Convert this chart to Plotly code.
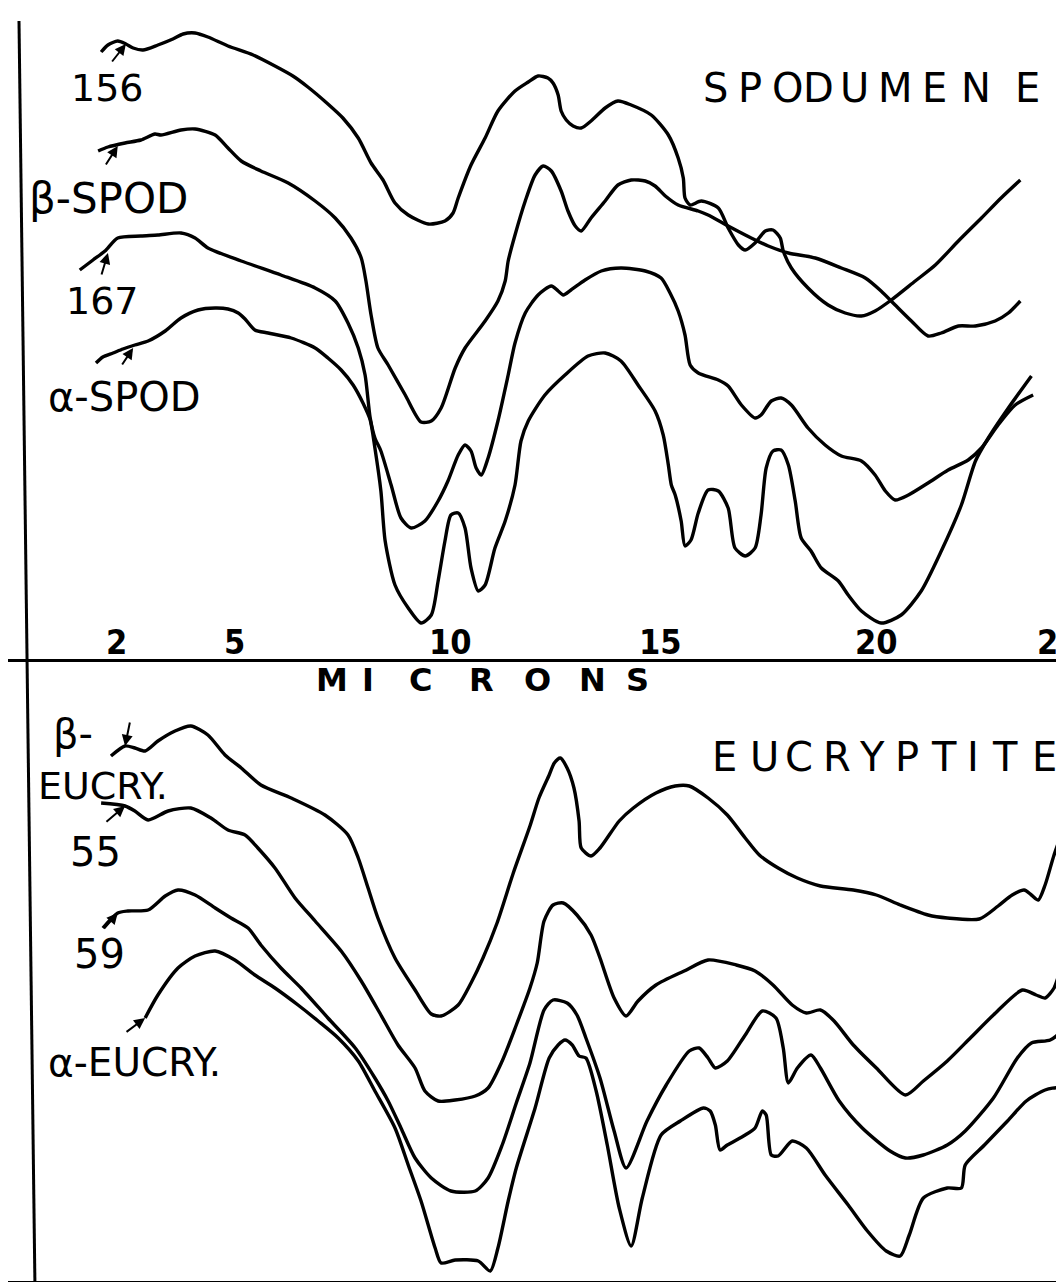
import plotly.graph_objects as go

# ---------------------------------------------------------------------------
# DATA  (x: wavelength in microns, y: relative transmission, arbitrary offset units)
# ---------------------------------------------------------------------------
# --- upper panel: SPODUMENE ---
s156_x = [1.87, 2.03, 2.26, 2.45, 2.62, 2.85, 3.20, 3.55, 3.79, 4.07, 4.37, 4.84, 5.43, 5.94, 6.36, 6.71,
          7.18, 7.53, 7.89, 8.19, 8.47, 8.75, 9.06, 9.53, 9.92, 10.11, 10.23, 10.53, 10.86, 11.16, 11.56,
          11.87, 12.10, 12.33, 12.45, 12.57, 12.64, 12.76, 12.92, 13.11, 13.34, 13.67, 13.97, 14.28, 14.75,
          15.15, 15.38, 15.50, 15.54, 15.66, 15.92, 16.32, 16.55, 16.79, 16.95, 17.18, 17.42, 17.60, 17.77,
          17.84, 18.03, 18.42, 18.89, 19.29, 19.67, 19.99, 20.37, 20.93, 21.40, 21.94, 22.48, 22.94, 23.39]
s156_y = [607, 614, 618, 615, 611, 609, 614, 620, 625, 626, 622, 613, 604, 593, 583, 572,
          555, 541, 521, 496, 479, 456, 444, 435, 438, 446, 461, 494, 521, 548, 568,
          577, 583, 581, 576, 564, 548, 539, 533, 531, 538, 551, 558, 554, 544,
          524, 501, 481, 461, 454, 458, 451, 431, 414, 409, 416, 428, 429, 421,
          408, 391, 371, 354, 346, 343, 348, 359, 378, 394, 418, 441, 461, 479]

beta_spod_x = [1.80, 2.03, 2.43, 2.80, 3.13, 3.27, 3.74, 4.07, 4.54, 4.84, 5.15, 5.61, 6.25, 6.88, 7.35,
               7.72, 7.96, 8.07, 8.19, 8.35, 8.59, 8.99, 9.36, 9.60, 9.83, 10.16, 10.39, 10.86, 11.16,
               11.33, 11.40, 11.56, 11.80, 12.03, 12.22, 12.41, 12.64, 12.80, 12.97, 13.11, 13.34, 13.67,
               13.97, 14.28, 14.61, 14.84, 15.08, 15.38, 15.85, 16.08, 16.55, 17.09, 17.49, 17.96, 18.59,
               19.20, 19.76, 20.13, 20.46, 20.84, 21.23, 21.54, 21.94, 22.34, 22.80, 23.11, 23.39]
beta_spod_y = [508, 512, 516, 519, 525, 524, 529, 530, 524, 511, 498, 488, 476, 458, 441,
               421, 401, 378, 344, 311, 294, 264, 237, 238, 251, 291, 311, 338, 358,
               378, 398, 424, 458, 484, 493, 488, 468, 448, 433, 428, 441, 458,
               474, 479, 478, 473, 463, 454, 448, 444, 433, 421, 413, 406, 401,
               391, 381, 368, 354, 338, 323, 326, 333, 333, 338, 346, 358]

s167_x = [1.37, 1.68, 1.96, 2.26, 2.80, 3.20, 3.74, 4.07, 4.37, 5.15, 6.08, 6.88, 7.35, 7.65, 7.89, 8.05,
          8.17, 8.28, 8.42, 8.66, 8.89, 9.13, 9.45, 9.76, 9.99, 10.23, 10.39, 10.53, 10.65, 10.77, 10.93,
          11.16, 11.40, 11.56, 11.80, 12.10, 12.41, 12.57, 12.69, 12.87, 13.20, 13.58, 14.04, 14.61, 14.98,
          15.19, 15.38, 15.54, 15.66, 15.85, 16.32, 16.55, 16.86, 17.18, 17.32, 17.56, 17.79, 18.03, 18.42,
          18.82, 19.20, 19.67, 19.99, 20.23, 20.46, 20.77, 21.23, 21.70, 22.17, 22.48, 22.87, 23.27, 23.69]
s167_y = [389, 399, 408, 421, 423, 424, 426, 421, 411, 398, 384, 371, 358, 336, 311, 284,
          241, 221, 208, 174, 141, 131, 138, 158, 178, 204, 214, 208, 191, 184, 201,
          238, 284, 316, 346, 364, 373, 368, 364, 369, 379, 388, 391, 388, 381,
          366, 348, 324, 294, 286, 279, 273, 254, 241, 244, 258, 261, 254, 231,
          214, 203, 198, 184, 168, 159, 164, 176, 189, 199, 211, 234, 254, 264]

alpha_spod_x = [1.75, 1.91, 2.15, 2.38, 2.66, 2.97, 3.37, 3.74, 4.14, 4.54, 4.84, 5.08, 5.24, 5.47, 5.78,
                6.32, 6.88, 7.18, 7.49, 7.77, 8.00, 8.17, 8.28, 8.42, 8.52, 8.75, 9.06, 9.36, 9.60, 9.76,
                9.92, 10.06, 10.23, 10.39, 10.53, 10.70, 10.86, 11.09, 11.33, 11.56, 11.70, 11.87, 12.26,
                12.73, 13.27, 13.67, 14.04, 14.44, 14.84, 15.03, 15.15, 15.22, 15.31, 15.45, 15.54, 15.68,
                15.85, 16.08, 16.32, 16.55, 16.71, 16.95, 17.18, 17.32, 17.44, 17.60, 17.79, 17.96, 18.12,
                18.26, 18.49, 18.73, 19.13, 19.36, 19.67, 20.13, 20.60, 21.07, 21.54, 22.01, 22.34, 22.64,
                23.11, 23.65]
alpha_spod_y = [296, 302, 306, 310, 314, 318, 328, 341, 349, 351, 350, 346, 340, 329, 326,
                321, 311, 301, 289, 274, 256, 239, 211, 168, 118, 74, 51, 36, 44, 78,
                118, 144, 146, 131, 91, 68, 74, 111, 138, 174, 218, 238, 264,
                284, 303, 306, 298, 274, 248, 224, 194, 174, 164, 138, 113, 119,
                146, 169, 168, 151, 111, 103, 111, 144, 191, 208, 209, 194, 158,
                121, 108, 91, 78, 64, 48, 36, 44, 68, 108, 154, 198, 221,
                251, 283]

# --- lower panel: EUCRYPTITE ---
beta_eucry_x = [2.10, 2.43, 2.66, 2.90, 3.20, 3.60, 3.97, 4.37, 4.77, 5.15, 5.61, 6.32, 7.11, 7.65, 7.89,
                8.12, 8.35, 8.75, 9.22, 9.60, 9.83, 10.23, 10.53, 10.81, 11.14, 11.52, 11.91, 12.12, 12.36,
                12.48, 12.62, 12.78, 12.94, 13.06, 13.11, 13.34, 13.55, 14.00, 14.33, 14.86, 15.31, 15.64,
                16.08, 16.53, 16.95, 17.28, 17.72, 18.17, 18.71, 19.48, 20.02, 20.58, 21.23, 21.68, 22.43,
                22.87, 23.20, 23.48, 23.65, 23.81, 23.97, 24.18, 24.35, 24.51]
beta_eucry_y = [525, 535, 533, 530, 540, 550, 555, 546, 526, 513, 496, 483, 466, 446, 423,
                393, 363, 323, 291, 267, 265, 276, 298, 323, 358, 408, 455, 483, 506,
                518, 523, 513, 493, 460, 433, 425, 433, 460, 473, 488, 495, 495,
                483, 466, 443, 426, 413, 403, 395, 391, 386, 376, 366, 363, 362,
                375, 386, 391, 386, 381, 396, 426, 445, 453]

s55_x = [1.87, 2.43, 2.66, 2.97, 3.44, 3.97, 4.44, 4.84, 5.24, 5.54, 5.94, 6.41, 6.88, 7.49, 7.96, 8.42,
         8.82, 9.22, 9.45, 9.76, 10.16, 10.63, 10.93, 11.26, 11.59, 11.91, 12.08, 12.24, 12.45, 12.69,
         13.01, 13.34, 13.55, 13.88, 14.16, 14.44, 14.86, 15.52, 16.08, 16.74, 17.18, 17.60, 18.05, 18.38,
         18.71, 19.03, 19.48, 20.02, 20.70, 21.12, 21.68, 22.22, 22.76, 23.44, 23.76, 23.97, 24.18, 24.35,
         24.51]
s55_y = [478, 475, 470, 461, 470, 473, 463, 451, 446, 433, 413, 383, 360, 330, 300, 266,
         236, 213, 190, 180, 181, 185, 193, 220, 256, 293, 318, 360, 376, 378,
         366, 346, 323, 283, 265, 280, 296, 310, 321, 316, 310, 296, 276, 268,
         271, 260, 236, 213, 186, 200, 220, 243, 266, 291, 286, 283, 293, 313,
         323]

s59_x = [1.91, 2.26, 2.50, 2.97, 3.37, 3.67, 4.07, 4.54, 4.91, 5.31, 5.61, 6.08, 6.55, 7.18, 7.82, 8.28,
         8.59, 8.89, 9.22, 9.60, 10.06, 10.63, 10.93, 11.26, 11.59, 11.91, 12.24, 12.45, 12.78, 13.01,
         13.22, 13.55, 13.88, 14.16, 14.65, 15.10, 15.64, 15.87, 16.08, 16.25, 16.53, 16.95, 17.35, 17.67,
         17.84, 17.96, 18.17, 18.49, 18.71, 19.15, 19.69, 20.34, 20.70, 21.12, 21.68, 22.10, 22.76, 23.32,
         23.65, 24.09, 24.35, 24.51]
s59_y = [353, 368, 370, 371, 385, 391, 386, 373, 363, 353, 336, 313, 293, 263, 233, 203,
         180, 153, 123, 103, 90, 90, 103, 136, 178, 218, 271, 281, 278, 266,
         243, 203, 150, 113, 160, 196, 230, 233, 223, 213, 220, 246, 270, 263,
         233, 198, 213, 226, 213, 180, 153, 130, 123, 126, 136, 150, 183, 223,
         238, 241, 250, 276]

alpha_eucry_x = [2.90, 3.20, 3.67, 4.07, 4.54, 5.00, 5.47, 5.94, 6.48, 6.95, 7.42, 7.89, 8.28, 8.75, 9.06,
                 9.36, 9.69, 9.83, 10.16, 10.70, 10.98, 11.16, 11.40, 11.59, 12.03, 12.36, 12.57, 12.73,
                 12.90, 13.06, 13.22, 13.46, 13.72, 14.00, 14.28, 14.54, 14.98, 15.43, 15.97, 16.13, 16.25,
                 16.36, 16.53, 16.95, 17.18, 17.35, 17.44, 17.56, 17.72, 18.05, 18.38, 18.82, 19.36, 19.81,
                 20.25, 20.58, 20.79, 21.12, 21.68, 22.01, 22.10, 22.55, 23.09, 23.53, 23.97, 24.30, 24.47,
                 24.51]
alpha_eucry_y = [263, 286, 313, 325, 330, 321, 306, 293, 276, 260, 243, 220, 190, 153, 116,
                 80, 33, 18, 21, 20, 10, 33, 80, 113, 173, 223, 236, 241,
                 236, 225, 223, 190, 136, 73, 35, 83, 146, 160, 173, 170, 156,
                 131, 136, 146, 153, 170, 166, 126, 125, 140, 133, 106, 76, 50,
                 30, 25, 46, 83, 93, 93, 116, 136, 160, 180, 191, 193, 183,
                 176]

TOP_SERIES = [("156", s156_x, s156_y), ("β-SPOD", beta_spod_x, beta_spod_y),
              ("167", s167_x, s167_y), ("α-SPOD", alpha_spod_x, alpha_spod_y)]
BOTTOM_SERIES = [("β-EUCRY.", beta_eucry_x, beta_eucry_y), ("55", s55_x, s55_y),
                 ("59", s59_x, s59_y), ("α-EUCRY.", alpha_eucry_x, alpha_eucry_y)]

TICK_LABELS = ["2", "5", "10", "15", "20", "2"]
AXIS_TITLE = "MICRONS"
TOP_TITLE = "SPODUMENE"
BOTTOM_TITLE = "EUCRYPTITE"

# ---------------------------------------------------------------------------
# FIGURE
# ---------------------------------------------------------------------------
W, H = 1064, 1282
INK = "#000000"
LINE_W = 3.4
SPLIT = 1 - 651 / H          # paper y of the upper panel's base line
XR = [-0.31, 24.60]

fig = go.Figure()
for name, xs, ys in TOP_SERIES:
    fig.add_trace(go.Scatter(x=xs, y=ys, mode="lines", name=name, xaxis="x", yaxis="y",
                             line=dict(color=INK, width=LINE_W, shape="spline", smoothing=0.7),
                             showlegend=False, hoverinfo="skip"))
for name, xs, ys in BOTTOM_SERIES:
    fig.add_trace(go.Scatter(x=xs, y=ys, mode="lines", name=name, xaxis="x2", yaxis="y2",
                             line=dict(color=INK, width=LINE_W, shape="spline", smoothing=0.7),
                             showlegend=False, hoverinfo="skip"))

FONT = "DejaVu Sans, Liberation Sans, sans-serif"
NARROW = "Liberation Sans Narrow, DejaVu Sans Condensed, Liberation Sans, sans-serif"
ann = []


def text(t, x, y, size, axis="", family=FONT, bold=False):
    ann.append(dict(text=("<b>%s</b>" % t) if bold else t, x=x, y=y,
                    xref="x" + axis, yref="y" + axis, showarrow=False,
                    xanchor="center", yanchor="middle",
                    font=dict(family=family, size=size, color=INK)))


def arrow(x, y, ax, ay, axis=""):
    ann.append(dict(text="", x=x, y=y, ax=ax, ay=ay, xref="x" + axis, yref="y" + axis,
                    axref="x" + axis, ayref="y" + axis, showarrow=True, arrowhead=2,
                    arrowsize=1.1, arrowwidth=2, arrowcolor=INK, standoff=0, startstandoff=0))


# curve labels, upper panel
text(TOP_SERIES[0][0], 2.01, 571, 38)
text(TOP_SERIES[1][0], 2.05, 461, 42)
text(TOP_SERIES[2][0], 1.91, 358, 38)
text(TOP_SERIES[3][0], 2.41, 262, 40)
arrow(2.45, 615, 2.10, 596)
arrow(2.26, 513, 1.96, 493)
arrow(2.03, 406, 1.87, 383)
arrow(2.62, 311, 2.34, 293)

# curve labels, lower panel
text("β-", 1.21, 547, 40, "2")
text("EUCRY.", 1.91, 495, 38, "2")
text(BOTTOM_SERIES[1][0], 1.75, 429, 40, "2")
text(BOTTOM_SERIES[2][0], 1.84, 327, 40, "2")
text(BOTTOM_SERIES[3][0], 2.66, 219, 39, "2")
arrow(2.43, 475, 1.96, 458, "2")
arrow(2.26, 368, 1.91, 351, "2")
arrow(2.90, 263, 2.43, 248, "2")
arrow(2.43, 535, 2.55, 560, "2")

# spaced panel titles (letter centres along the wavelength axis)
for ch, xc in zip(TOP_TITLE, [16.25, 17.07, 17.94, 18.66, 19.50, 20.46, 21.38, 22.36, 23.55]):
    text(ch, xc, 571, 40)
for ch, xc in zip(BOTTOM_TITLE, [16.46, 17.39, 18.21, 19.10, 19.92, 20.74, 21.61, 22.29, 23.03, 23.95]):
    text(ch, xc, 524, 40, "2")
for ch, xc in zip(AXIS_TITLE, [7.28, 8.12, 9.34, 10.77, 12.08, 13.37, 14.42]):
    text(ch, xc, 601, 32, "2", bold=True)

# hand-lettered wavelength marks sitting on the upper base line
for lab, xc in zip(TICK_LABELS, [2.22, 5.00, 10.06, 14.96, 20.02, 24.02]):
    text(lab, xc, 17, 34, family=NARROW, bold=True)

shapes = [
    # left frame line (slightly slanted, as drawn)
    dict(type="line", xref="paper", yref="paper", x0=11 / W, y0=1 - 13 / H, x1=27 / W, y1=0,
         line=dict(color=INK, width=3)),
    # right frame stub in the upper panel
    dict(type="line", xref="paper", yref="paper", x0=1062 / W, y0=1, x1=1062 / W, y1=1 - 360 / H,
         line=dict(color=INK, width=2)),
]

fig.update_layout(
    width=W, height=H, margin=dict(l=0, r=0, t=0, b=0),
    paper_bgcolor="white", plot_bgcolor="white", showlegend=False,
    xaxis=dict(domain=[0, 1], range=XR, anchor="y", showgrid=False, zeroline=False,
               showticklabels=False, ticks="", showline=True, linecolor=INK, linewidth=3),
    yaxis=dict(domain=[SPLIT, 1], range=[0, 651], anchor="x", showgrid=False, zeroline=False,
               showticklabels=False, ticks="", showline=False),
    xaxis2=dict(domain=[0, 1], range=XR, anchor="y2", showgrid=False, zeroline=False,
                showticklabels=False, ticks="", showline=True, linecolor=INK, linewidth=3),
    yaxis2=dict(domain=[9 / H, SPLIT], range=[0, 622], anchor="x2", showgrid=False, zeroline=False,
                showticklabels=False, ticks="", showline=False),
    annotations=ann, shapes=shapes,
)

fig.write_html("out.html")
